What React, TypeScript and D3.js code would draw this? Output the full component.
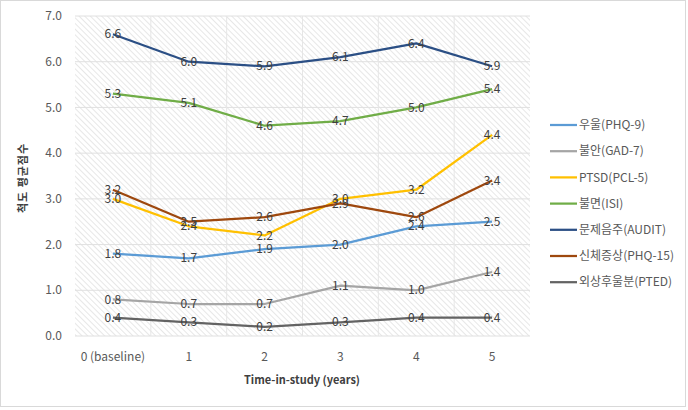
import React from 'react';
import * as d3 from 'd3';

const categories = ['0 (baseline)', '1', '2', '3', '4', '5'];
const yTicks = [0, 1, 2, 3, 4, 5, 6, 7];

const seriesNames = ['우울(PHQ-9)', '불안(GAD-7)', 'PTSD(PCL-5)', '불면(ISI)', '문제음주(AUDIT)', '신체증상(PHQ-15)', '외상후울분(PTED)'];
const seriesColors = ['#5B9BD5', '#A5A5A5', '#FFC000', '#70AD47', '#2B4F85', '#9E480E', '#636363'];

const depression = [1.8, 1.7, 1.9, 2.0, 2.4, 2.5];
const anxiety = [0.8, 0.7, 0.7, 1.1, 1.0, 1.4];
const ptsd = [3.0, 2.4, 2.2, 3.0, 3.2, 4.4];
const insomnia = [5.3, 5.1, 4.6, 4.7, 5.0, 5.4];
const alcohol = [6.6, 6.0, 5.9, 6.1, 6.4, 5.9];
const somatic = [3.2, 2.5, 2.6, 2.9, 2.6, 3.4];
const embitter = [0.4, 0.3, 0.2, 0.3, 0.4, 0.4];

const seriesValues = [depression, anxiety, ptsd, insomnia, alcohol, somatic, embitter];

const W = 688;
const H = 410;
const plot = { left: 75, right: 530, top: 16, bottom: 336 };
const font = '"Noto Sans CJK KR", "Noto Sans", sans-serif';

const App: React.FC = () => {
    const x = d3.scaleBand<string>().domain(categories).range([plot.left, plot.right]);
    const y = d3.scaleLinear().domain([0, 7]).range([plot.bottom, plot.top]);
    const cx = (c: string) => (x(c) as number) + x.bandwidth() / 2;

    const line = d3.line<number>()
        .x((_d, i) => cx(categories[i]))
        .y((d) => y(d));

    document.body.style.margin = '0';

    return (
        <svg width={W} height={H} style={{ display: 'block', fontFamily: font }}>
            <defs>
                <pattern id="hatch" width="4" height="4" patternUnits="userSpaceOnUse" patternTransform="rotate(-45)">
                    <line x1="0" y1="0" x2="0" y2="4" stroke="#cfcfcf" strokeWidth="1" />
                </pattern>
            </defs>
            <rect x={0.5} y={0.5} width={685} height={406} fill="#fff" stroke="#d9d9d9" />

            <rect x={plot.left} y={plot.top} width={plot.right - plot.left} height={plot.bottom - plot.top} fill="url(#hatch)" />

            {yTicks.map((t) => (
                <g key={t}>
                    <line x1={plot.left} x2={plot.right} y1={y(t)} y2={y(t)} stroke="#e0e0e0" strokeWidth={1} />
                    <text x={62} y={y(t)} dy="0.35em" textAnchor="end" fontSize={12} fill="#595959">{t.toFixed(1)}</text>
                </g>
            ))}
            {categories.map((c, i) => (
                <g key={c}>
                    {i > 0 && (
                        <line x1={x(c)} x2={x(c)} y1={plot.top} y2={plot.bottom} stroke="#e6e6e6" strokeWidth={1} />
                    )}
                    <text x={cx(c)} y={357} dy="0.35em" textAnchor="middle" fontSize={12} fill="#595959">{c}</text>
                </g>
            ))}

            {seriesValues.map((vals, s) => (
                <path key={s} d={line(vals) as string} fill="none" stroke={seriesColors[s]} strokeWidth={2.25} strokeLinejoin="round" />
            ))}

            {seriesValues.map((vals, s) => (
                <g key={'lab' + s}>
                    {vals.map((v, i) => (
                        <text key={i} x={cx(categories[i])} y={y(v)} dy="0.35em" textAnchor="middle" fontSize={12} fill="#404040">
                            {v.toFixed(1)}
                        </text>
                    ))}
                </g>
            ))}

            <text x={302} y={380} dy="0.35em" textAnchor="middle" fontSize={11} fontWeight="bold" fill="#404040">Time-in-study (years)</text>
            <text transform={`translate(23, 178) rotate(-90)`} dy="0.35em" textAnchor="middle" fontSize={11} fontWeight="bold" fill="#404040" letterSpacing={1}>척도 평균점수</text>

            {seriesNames.map((name, s) => {
                const ly = 125 + s * 26.2;
                return (
                    <g key={name}>
                        <line x1={550} x2={577} y1={ly} y2={ly} stroke={seriesColors[s]} strokeWidth={2.25} />
                        <text x={579} y={ly} dy="0.35em" fontSize={12} fill="#595959">{name}</text>
                    </g>
                );
            })}
        </svg>
    );
};

export default App;
